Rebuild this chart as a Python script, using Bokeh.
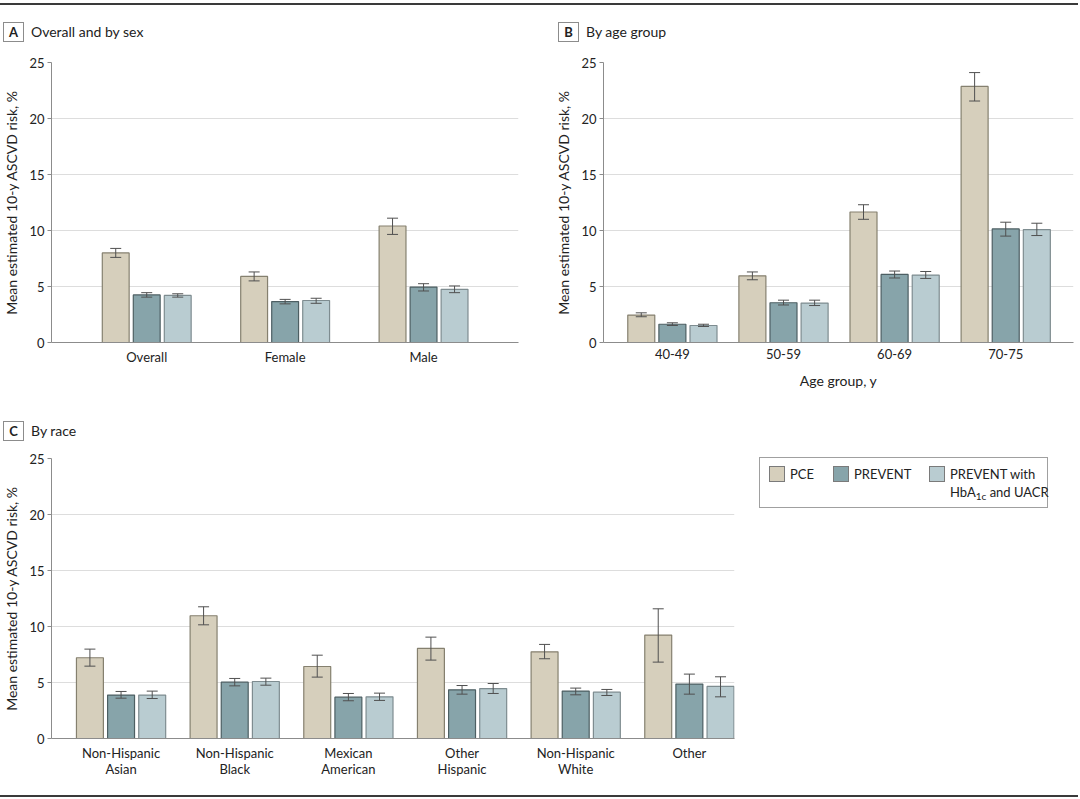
from bokeh.plotting import figure
from bokeh.models import Range1d, FixedTicker, ColumnDataSource, Whisker, TeeHead, Div
from bokeh.layouts import row, column
from bokeh.embed import file_html
from bokeh.resources import INLINE

FONT = "Lato"
TXT = "#222222"

series = ["PCE", "PREVENT", "PREVENT with HbA1c and UACR"]
fill_colors = ["#D6CFBC", "#87A4AA", "#B9CCD1"]
edge_colors = ["#85806f", "#4d5f63", "#7e8c90"]

# Panel A: overall and by sex
sex_cats = ["Overall", "Female", "Male"]
sex_pce = [8.0, 5.9, 10.4]
sex_pce_lo = [7.6, 5.5, 9.65]
sex_pce_hi = [8.4, 6.3, 11.1]
sex_prev = [4.25, 3.65, 4.95]
sex_prev_lo = [4.05, 3.45, 4.6]
sex_prev_hi = [4.45, 3.85, 5.25]
sex_prevx = [4.2, 3.75, 4.75]
sex_prevx_lo = [4.05, 3.5, 4.45]
sex_prevx_hi = [4.35, 3.95, 5.05]

# Panel B: by age group
age_cats = ["40-49", "50-59", "60-69", "70-75"]
age_pce = [2.45, 5.95, 11.65, 22.86]
age_pce_lo = [2.3, 5.6, 11.0, 21.56]
age_pce_hi = [2.65, 6.3, 12.3, 24.1]
age_prev = [1.63, 3.55, 6.08, 10.14]
age_prev_lo = [1.52, 3.35, 5.76, 9.5]
age_prev_hi = [1.76, 3.78, 6.38, 10.74]
age_prevx = [1.52, 3.52, 6.02, 10.08]
age_prevx_lo = [1.43, 3.3, 5.72, 9.55]
age_prevx_hi = [1.63, 3.78, 6.34, 10.65]

# Panel C: by race
race_cats = ["Non-Hispanic\nAsian", "Non-Hispanic\nBlack", "Mexican\nAmerican",
             "Other\nHispanic", "Non-Hispanic\nWhite", "Other"]
race_pce = [7.21, 10.96, 6.43, 8.04, 7.74, 9.23]
race_pce_lo = [6.46, 10.15, 5.48, 7.0, 7.12, 6.82]
race_pce_hi = [7.98, 11.76, 7.44, 9.05, 8.4, 11.58]
race_prev = [3.88, 5.03, 3.69, 4.35, 4.23, 4.86]
race_prev_lo = [3.6, 4.7, 3.37, 3.96, 3.9, 3.96]
race_prev_hi = [4.2, 5.36, 4.02, 4.73, 4.5, 5.75]
race_prevx = [3.88, 5.09, 3.72, 4.46, 4.14, 4.65]
race_prevx_lo = [3.57, 4.76, 3.4, 4.02, 3.84, 3.72]
race_prevx_hi = [4.23, 5.39, 4.05, 4.91, 4.38, 5.51]

y_ticks = [0, 5, 10, 15, 20, 25]
y_label = "Mean estimated 10-y ASCVD risk, %"

W = 1078  # total content width (Bokeh's page template has no body margin)


def make_panel(cats, vals, los, his, width, height, mb_left, mb_right, mb_top, mb_bottom,
               x_start, x_end, bar_w, bar_off, x_label=None, label_standoff=6):
    p = figure(width=width, height=height, output_backend="svg", toolbar_location=None,
               x_range=Range1d(x_start, x_end), y_range=Range1d(0, 25),
               min_border_left=mb_left, min_border_right=mb_right,
               min_border_top=mb_top, min_border_bottom=mb_bottom)
    p.outline_line_color = None
    p.background_fill_color = "white"
    p.border_fill_color = "white"
    p.xgrid.grid_line_color = None
    p.ygrid.grid_line_color = "#dddddd"
    p.ygrid.grid_line_width = 1
    p.ygrid.ticker = FixedTicker(ticks=y_ticks)

    idx = list(range(len(cats)))
    offsets = [-bar_off, 0.0, bar_off]
    for k in range(3):
        src = ColumnDataSource(dict(
            x=[i + offsets[k] for i in idx], top=vals[k], lo=los[k], hi=his[k]))
        p.vbar(x="x", top="top", bottom=0, width=bar_w, source=src,
               fill_color=fill_colors[k], line_color=edge_colors[k], line_width=1.2)
        w = Whisker(base="x", upper="hi", lower="lo", source=src,
                    line_color="#505050", line_width=1, level="overlay",
                    upper_head=TeeHead(size=11, line_color="#505050", line_width=1),
                    lower_head=TeeHead(size=11, line_color="#505050", line_width=1))
        p.add_layout(w)

    yax = p.yaxis[0]
    yax.ticker = FixedTicker(ticks=y_ticks)
    yax.axis_line_color = "#8c8c8c"
    yax.major_tick_line_color = "#8c8c8c"
    yax.major_tick_out = 4
    yax.major_tick_in = 0
    yax.minor_tick_line_color = None
    yax.major_label_standoff = 3
    yax.major_label_text_font = FONT
    yax.major_label_text_font_size = "13px"
    yax.major_label_text_color = TXT
    yax.axis_label = y_label
    yax.axis_label_text_font = FONT
    yax.axis_label_text_font_size = "14px"
    yax.axis_label_text_font_style = "normal"
    yax.axis_label_text_color = TXT
    yax.axis_label_standoff = 6

    xax = p.xaxis[0]
    xax.ticker = FixedTicker(ticks=idx)
    xax.major_label_overrides = {i: c for i, c in zip(idx, cats)}
    xax.axis_line_color = "#8c8c8c"
    xax.axis_line_width = 1.2
    xax.major_tick_line_color = None
    xax.major_tick_out = 0
    xax.major_tick_in = 0
    xax.minor_tick_line_color = None
    xax.minor_tick_out = 0
    xax.major_label_standoff = label_standoff
    xax.major_label_text_font = FONT
    xax.major_label_text_font_size = "13px"
    xax.major_label_text_color = TXT
    xax.major_label_text_line_height = 1.0
    if x_label:
        xax.axis_label = x_label
        xax.axis_label_text_font = FONT
        xax.axis_label_text_font_size = "14px"
        xax.axis_label_text_font_style = "normal"
        xax.axis_label_text_color = TXT
        xax.axis_label_standoff = 10
    return p


def box_html(letter, title, left, top):
    return (
        f'<div style="position:absolute;left:{left}px;top:{top}px;width:21px;height:20px;'
        f'box-sizing:border-box;border:1px solid #8c8c8c;font-weight:bold;font-size:13px;'
        f'line-height:18px;text-align:center">{letter}</div>'
        f'<div style="position:absolute;left:{left + 28}px;top:{top}px;height:20px;line-height:20px;'
        f'font-size:14px;white-space:nowrap">{title}</div>'
    )


def wrap(inner, width, height):
    return (f'<div style="position:relative;width:{width}px;height:{height}px;overflow:hidden;'
            f'font-family:{FONT};color:{TXT}">{inner}</div>')


def rule_html(top, width):
    return (f'<div style="position:absolute;left:0px;top:{top}px;width:{width}px;height:1.5px;'
            f'background:#3a3a3a"></div>')


# header strip for A and B: page y 0..50
hAB = Div(text=wrap(rule_html(3, W) + box_html("A", "Overall and by sex", 3, 22)
                    + box_html("B", "By age group", 558, 22), W, 50),
          width=W, height=50, margin=(0, 0, 0, 0))

# A: page x 0..548, frame x 49..518, frame y 62..342
pA = make_panel(sex_cats, [sex_pce, sex_prev, sex_prevx],
                [sex_pce_lo, sex_prev_lo, sex_prevx_lo],
                [sex_pce_hi, sex_prev_hi, sex_prevx_hi],
                548, 355, 49, 30, 12, 63, -0.688, 2.686, 0.194, 0.224)
# B: page x 548..1078, frame x 603..1073
pB = make_panel(age_cats, [age_pce, age_prev, age_prevx],
                [age_pce_lo, age_prev_lo, age_prevx_lo],
                [age_pce_hi, age_prev_hi, age_prevx_hi],
                W - 548, 355, 55, 5, 12, 63, -0.62, 3.61, 0.243, 0.280, x_label="Age group, y")

# header strip for C: page y 405..446
hC = Div(text=wrap(box_html("C", "By race", 3, 16), W, 41),
         width=W, height=41, margin=(0, 0, 0, 0))

# C: page x 0..748, frame x 49..734, frame y 458..738
pC = make_panel(race_cats, [race_pce, race_prev, race_prevx],
                [race_pce_lo, race_prev_lo, race_prevx_lo],
                [race_pce_hi, race_prev_hi, race_prevx_hi],
                748, 340, 49, 14, 12, 48, -0.612, 5.397, 0.237, 0.274, label_standoff=6)


def swatch(left, color):
    return (f'<div style="position:absolute;left:{left}px;top:8px;width:16px;height:16px;'
            f'box-sizing:border-box;border:1px solid #7a7a7a;background:{color}"></div>')


def legend_text(left, html):
    return (f'<div style="position:absolute;left:{left}px;top:7px;font-size:13px;line-height:18px;'
            f'white-space:nowrap">{html}</div>')


legend_inner = (
    '<div style="position:absolute;left:11px;top:11px;width:289px;height:51px;box-sizing:border-box;'
    'border:1px solid #a0a0a0;background:white">'
    + swatch(9, fill_colors[0]) + legend_text(30, series[0])
    + swatch(73, fill_colors[1]) + legend_text(94, series[1])
    + swatch(169, fill_colors[2])
    + legend_text(190, 'PREVENT with<br>HbA<sub style="font-size:10px;line-height:0;'
                       'vertical-align:-3px">1c</sub> and UACR')
    + '</div>'
)
legend = Div(text=wrap(legend_inner, W - 748, 340), width=W - 748, height=340, margin=(0, 0, 0, 0))

# bottom strip: page y 786..798, rule at 795
bottom = Div(text=wrap(rule_html(9, W), W, 12), width=W, height=12, margin=(0, 0, 0, 0))

layout = column(hAB, row(pA, pB), hC, row(pC, legend), bottom)

open("out.html", "w").write(file_html(layout, INLINE))
